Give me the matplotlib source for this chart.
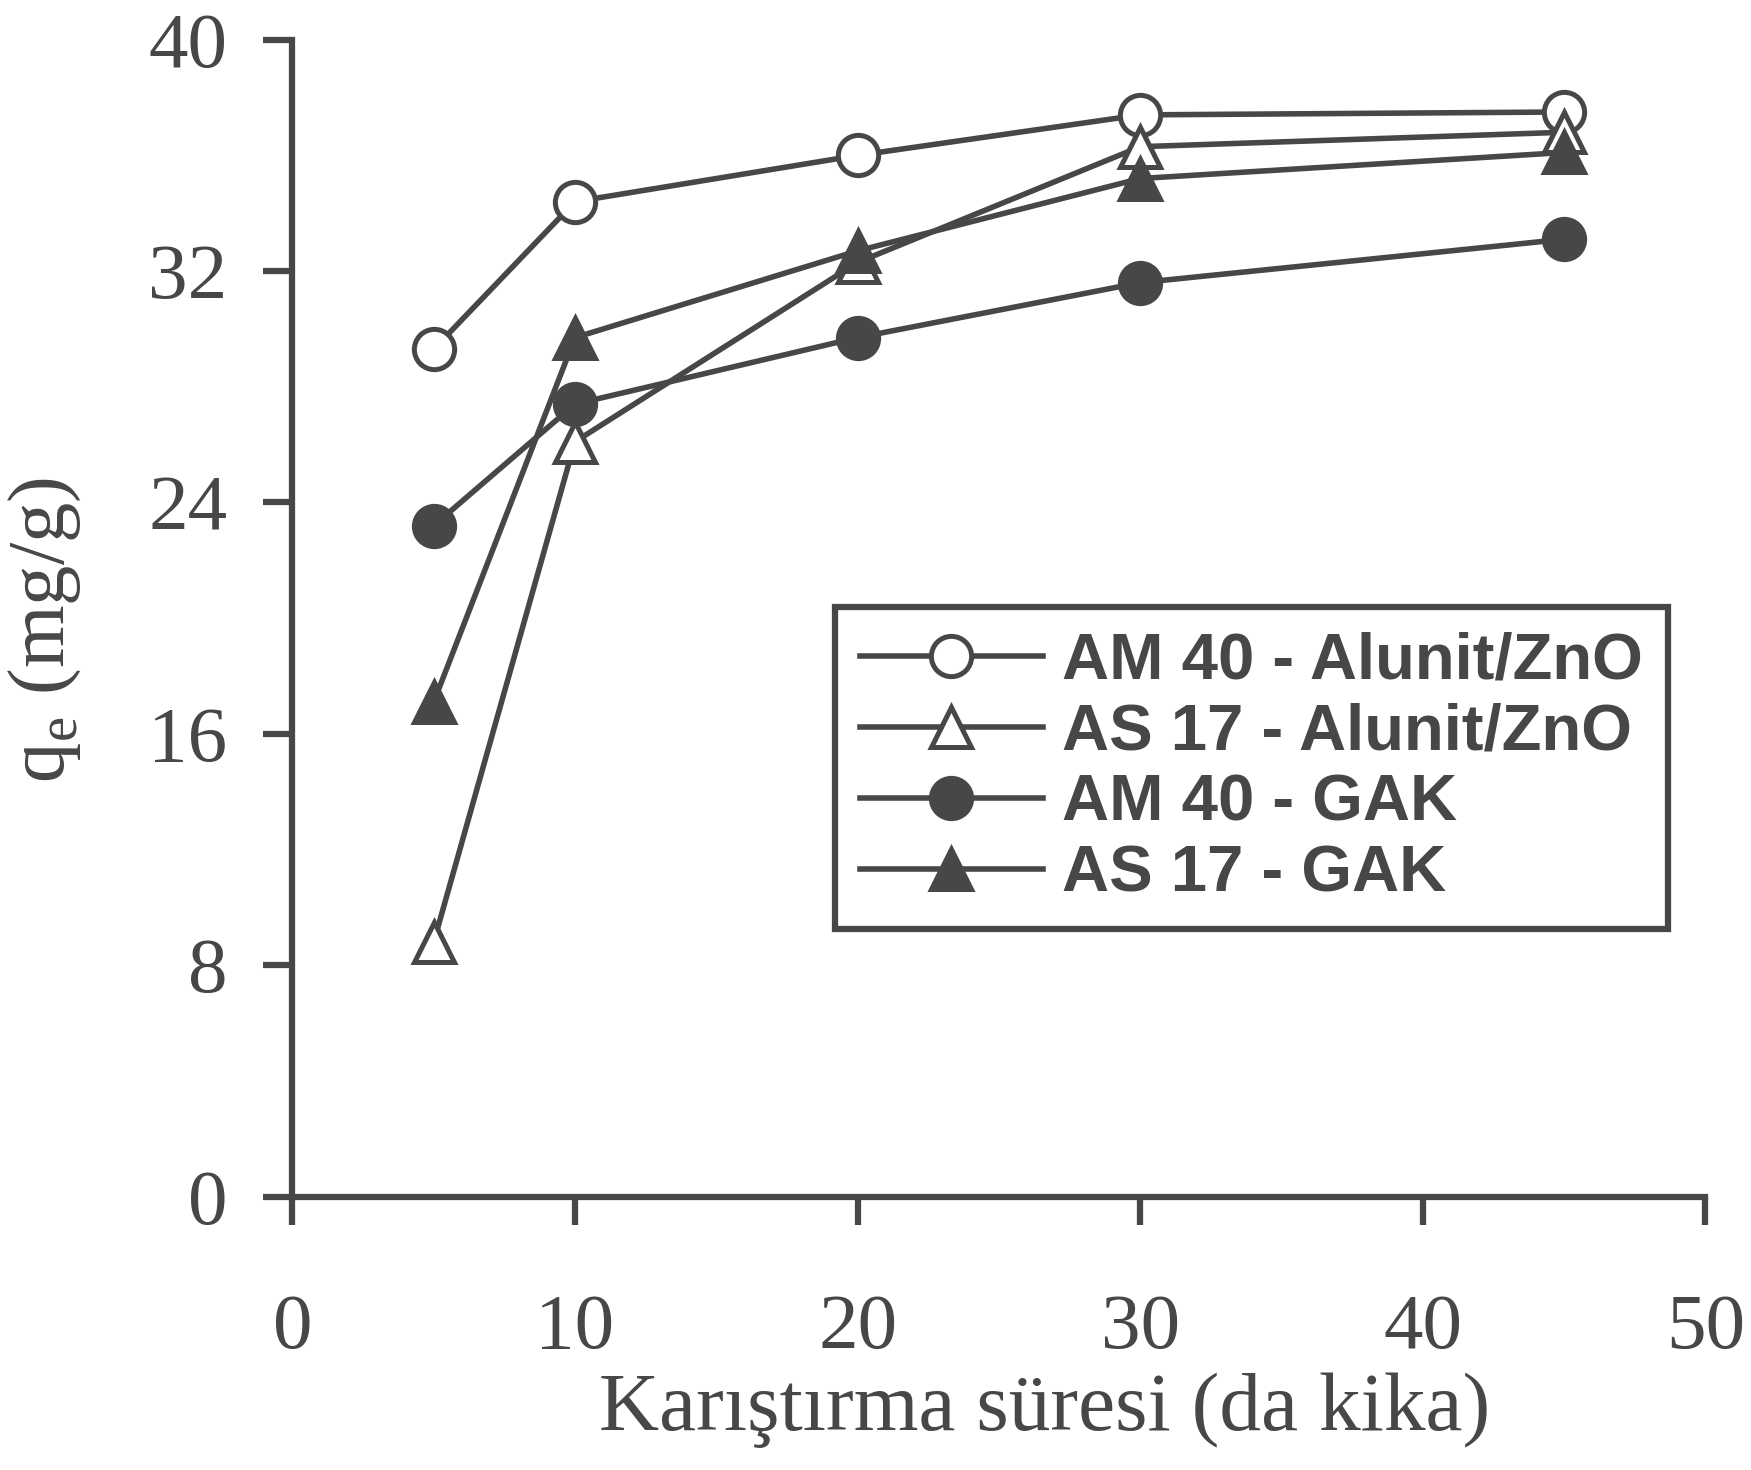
import matplotlib
matplotlib.use("Agg")
import matplotlib.pyplot as plt

# ------------------------------------------------------------
# Adsorption kinetics: q_e vs. stirring time
# ------------------------------------------------------------

time = [5, 10, 20, 30, 45]

am40_alunit = [29.3, 34.4, 36.0, 37.4, 37.5]
as17_alunit = [8.8, 26.1, 32.3, 36.3, 36.8]
am40_gak    = [23.2, 27.4, 29.7, 31.6, 33.1]
as17_gak    = [17.1, 29.7, 32.7, 35.2, 36.1]

labels = ["AM 40 - Alunit/ZnO", "AS 17 - Alunit/ZnO", "AM 40 - GAK", "AS 17 - GAK"]

xticks = [0, 10, 20, 30, 40, 50]
yticks = [0, 8, 16, 24, 32, 40]

ink = "#474747"

plt.rcParams["font.family"] = ["Liberation Serif", "DejaVu Serif"]
plt.rcParams["mathtext.fontset"] = "custom"
plt.rcParams["mathtext.rm"] = "Liberation Serif"

fig = plt.figure(figsize=(17.51, 14.70), dpi=100)
ax = fig.add_axes([0.167, 0.186, 0.807, 0.787])

lw, ms, mew = 4.0, 29, 3.6
ax.plot(time, am40_alunit, color=ink, lw=lw, marker="o", ms=ms, mfc="white", mec=ink, mew=mew, label=labels[0])
ax.plot(time, as17_alunit, color=ink, lw=lw, marker="^", ms=ms, mfc="white", mec=ink, mew=mew, label=labels[1])
ax.plot(time, am40_gak,    color=ink, lw=lw, marker="o", ms=ms, mfc=ink,     mec=ink, mew=mew, label=labels[2])
ax.plot(time, as17_gak,    color=ink, lw=lw, marker="^", ms=ms, mfc=ink,     mec=ink, mew=mew, label=labels[3])

ax.set_xlim(0, 50)
ax.set_ylim(0, 40)
ax.set_xticks(xticks)
ax.set_yticks(yticks)

for s in ["top", "right"]:
    ax.spines[s].set_visible(False)
for s in ["left", "bottom"]:
    ax.spines[s].set_linewidth(4.5)
    ax.spines[s].set_color(ink)

ax.tick_params(axis="x", direction="out", length=20, width=4.5, color=ink,
               labelsize=57, labelcolor=ink, pad=50)
ax.tick_params(axis="y", direction="out", length=21, width=4.5, color=ink,
               labelsize=57, labelcolor=ink, pad=26)

ax.set_xlabel("Karıştırma süresi (da kika)", fontsize=60, color=ink)
ax.xaxis.set_label_coords(0.532, -0.152)
ax.set_ylabel("q$_\\mathregular{e}$ (mg/g)", fontsize=58, color=ink)
ax.yaxis.set_label_coords(-0.148, 0.49)

leg = ax.legend(loc="upper left", bbox_to_anchor=(0.384, 0.510),
                prop={"family": ["Liberation Sans Narrow", "Liberation Sans"],
                      "weight": "bold", "size": 47},
                frameon=True, fancybox=False, framealpha=1,
                handlelength=2.8, handletextpad=0.3, labelspacing=0.17,
                borderpad=0.38, borderaxespad=0)
leg.get_frame().set_edgecolor(ink)
leg.get_frame().set_linewidth(4.5)
for t in leg.get_texts():
    t.set_color(ink)

fig.savefig("out.png", dpi=100)
